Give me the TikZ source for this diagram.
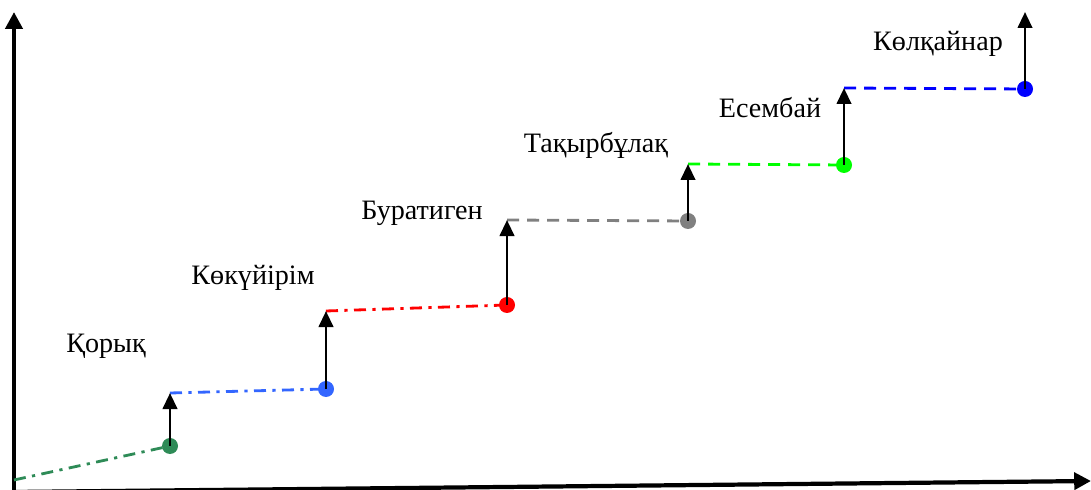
\documentclass[tikz,border=0pt]{standalone}
\usepackage{fontspec}
\setmainfont{Liberation Serif}
\usetikzlibrary{arrows.meta}
\definecolor{seagrn}{RGB}{46,139,87}
\definecolor{skyblu}{RGB}{51,102,255}
\newcommand{\stepdot}[1]{\node[circle,fill=#1,inner sep=0pt,minimum size=0.4cm]}
\newcommand{\placename}{\node[font=\fontsize{20}{24}\selectfont,inner sep=0pt]}
\tikzset{
  rise/.style={line width=2pt,-{Triangle[length=0.4cm,width=0.36cm]}},
  axisline/.style={line width=3pt,-{Triangle[length=0.42cm,width=0.42cm]}},
  dashdot/.style={line width=2pt,dash pattern=on 0.3cm off 0.16cm on 0.08cm off 0.16cm},
  dashline/.style={line width=2pt,dash pattern=on 0.3cm off 0.2cm},
}

\begin{document}
\begin{tikzpicture}[x=0.025cm,y=-0.025cm]
      \useasboundingbox (0,0) rectangle (1091,490);
      %%%% axes
      \coordinate (O) at (14,492);
      \coordinate (ytop) at (14,12);
      \coordinate (xend) at (1091,481);
      \draw[axisline] (O) -- (ytop);
      \draw[axisline] (O) -- (xend);
      %%%% step points
      \coordinate (start) at (14,480);
      \stepdot{seagrn} (d1) at (170,446) {};
      \stepdot{skyblu} (d2) at (326,389) {};
      \stepdot{red} (d3) at (507,305) {};
      \stepdot{gray} (d4) at (688,221) {};
      \stepdot{green} (d5) at (844,165) {};
      \stepdot{blue} (d6) at (1025,89) {};
      %%%% tops of the rises
      \coordinate (t1) at (170,393);
      \coordinate (t2) at (326,311);
      \coordinate (t3) at (507,220);
      \coordinate (t4) at (688,164);
      \coordinate (t5) at (844,88);
      \coordinate (t6) at (1025,12);
      %%%% levels
      \draw[seagrn,dashdot] (start) -- (d1.center);
      \draw[skyblu,dashdot] (t1) -- (d2.center);
      \draw[red,dashdot] (t2) -- (d3.center);
      \draw[gray,dashline] (t3) -- (d4.center);
      \draw[green,dashline] (t4) -- (d5.center);
      \draw[blue,dashline] (t5) -- (d6.center);
      %%%% rises
      \draw[rise] (d1.center) -- (t1);
      \draw[rise] (d2.center) -- (t2);
      \draw[rise] (d3.center) -- (t3);
      \draw[rise] (d4.center) -- (t4);
      \draw[rise] (d5.center) -- (t5);
      \draw[rise] (d6.center) -- (t6);
      %%%% names
      \placename (n1) at (106,346) {Қорық};
      \placename (n2) at (253,278) {Көкүйірім};
      \placename (n3) at (422,213) {Буратиген};
      \placename (n4) at (596,145) {Тақырбұлақ};
      \placename (n5) at (770,108) {Есембай};
      \placename (n6) at (938,44) {Көлқайнар};
    \end{tikzpicture}
\end{document}
